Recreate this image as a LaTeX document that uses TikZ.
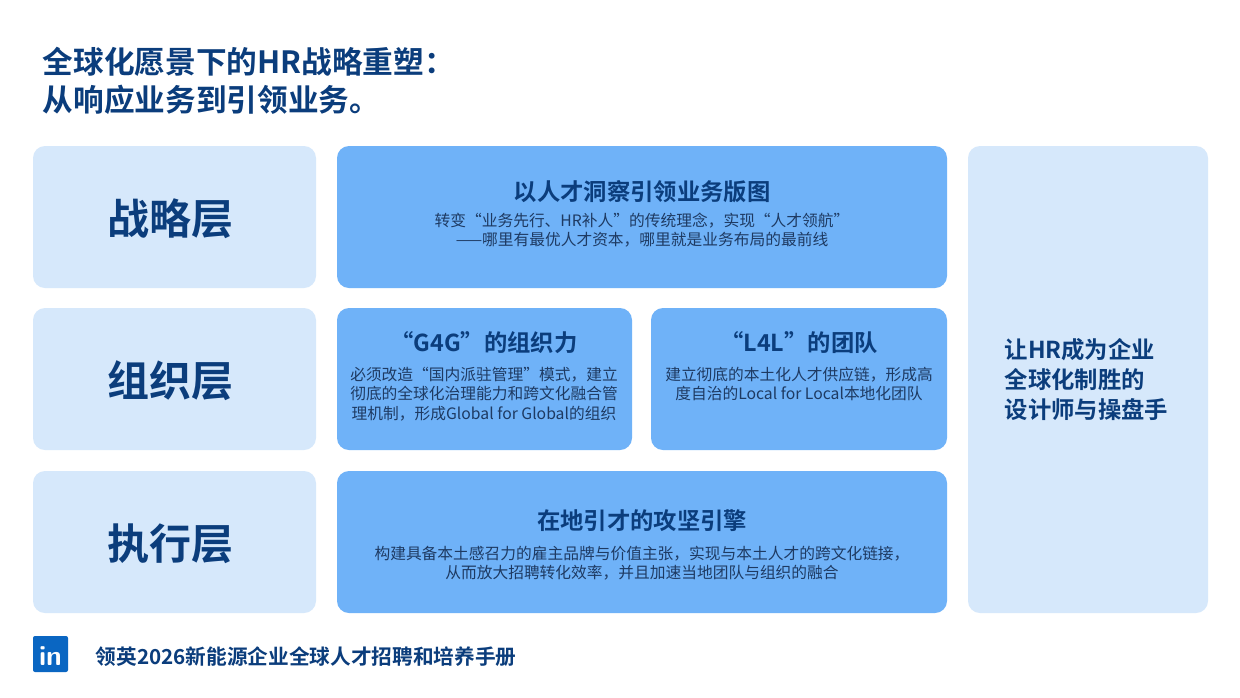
\documentclass[tikz,border=0pt]{standalone}
\usepackage{fontspec}
\setmainfont{Noto Sans CJK SC}
\newfontfamily\cjkb{Noto Sans CJK SC Bold}
\definecolor{navy}{HTML}{0B3D7C}
\definecolor{pale}{HTML}{D6E8FB}
\definecolor{mid}{HTML}{6FB2F8}
\definecolor{bodyc}{HTML}{1E3A62}
\definecolor{lnk}{HTML}{0A66C2}
\begin{document}
\begin{tikzpicture}[x=0.75pt,y=-0.75pt,
  card/.style={rounded corners=9pt},
  lbl/.style={font=\cjkb\fontsize{31.5}{36}\selectfont,text=navy},
  head/.style={font=\cjkb\fontsize{17.5}{21}\selectfont,text=navy},
  body/.style={font=\fontsize{11.8}{14.5}\selectfont,text=bodyc,align=center}]
\useasboundingbox (0,0) rectangle (1240,697);
\fill[white] (0,0) rectangle (1240,697);
\node[anchor=west,font=\cjkb\fontsize{23}{28}\selectfont,text=navy,align=left] (title) at (38,81) {全球化愿景下的HR战略重塑：\\从响应业务到引领业务。};
% left column
\fill[pale,card] (33,146) rectangle (316,288);
\fill[pale,card] (33,308) rectangle (316,450);
\fill[pale,card] (33,471) rectangle (316,613);
\node[lbl] (l1) at (170,219) {战略层};
\node[lbl] (l2) at (170,381) {组织层};
\node[lbl] (l3) at (170,544) {执行层};
% middle
\fill[mid,card] (337,146) rectangle (947,288);
\fill[mid,card] (337,308) rectangle (632,450);
\fill[mid,card] (651,308) rectangle (947,450);
\fill[mid,card] (337,471) rectangle (947,613);
\node[head] (h1) at (642,192) {以人才洞察引领业务版图};
\node[body] (b1) at (642,230) {转变“业务先行、HR补人”的传统理念，实现“人才领航”\\——哪里有最优人才资本，哪里就是业务布局的最前线};
\node[head] (h2) at (484,343) {“G4G”的组织力};
\node[body] (b2) at (484,394) {必须改造“国内派驻管理”模式，建立\\彻底的全球化治理能力和跨文化融合管\\理机制，形成Global for Global的组织};
\node[head] (h3) at (799,343) {“L4L”的团队};
\node[body] (b3) at (799,384) {建立彻底的本土化人才供应链，形成高\\度自治的Local for Local本地化团队};
\node[head] (h4) at (642,521) {在地引才的攻坚引擎};
\node[body] (b4) at (642,563) {构建具备本土感召力的雇主品牌与价值主张，实现与本土人才的跨文化链接，\\从而放大招聘转化效率，并且加速当地团队与组织的融合};
% right
\fill[pale,card] (968,146) rectangle (1208,613);
\node[anchor=west,font=\cjkb\fontsize{17.5}{22.5}\selectfont,text=navy,align=left] (r) at (1000,380) {让HR成为企业\\全球化制胜的\\设计师与操盘手};
% footer
\fill[lnk,rounded corners=1.5pt] (33,636) rectangle (68,672);
\node[text=white,font=\sffamily\bfseries\fontsize{21}{21}\selectfont] (logo) at (50.5,656) {in};
\node[anchor=west,font=\cjkb\fontsize{15.5}{18}\selectfont,text=navy] (foot) at (91,657) {领英2026新能源企业全球人才招聘和培养手册};
\end{tikzpicture}
\end{document}
